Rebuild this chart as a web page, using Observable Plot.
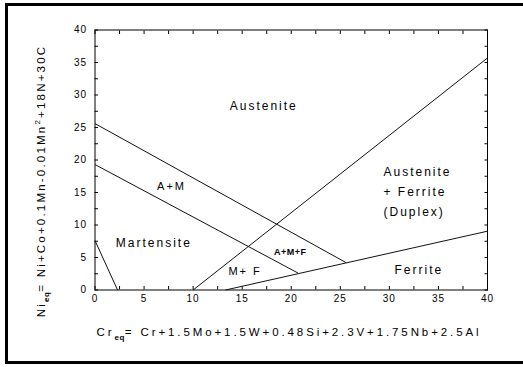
<!DOCTYPE html>
<html>
<head>
<meta charset="utf-8">
<script src="https://cdn.jsdelivr.net/npm/d3@7"></script>
<script src="https://cdn.jsdelivr.net/npm/@observablehq/plot@0.6"></script>
<style>
  html, body { margin: 0; padding: 0; background: #fff; }
  #wrap { position: relative; width: 523px; height: 367px; overflow: hidden; }
  #border { position: absolute; left: 5px; top: 3px; width: 540px; height: 361px;
            border: 3px solid #000; box-sizing: border-box; pointer-events: none; }
  #wrap svg { position: absolute; left: 0; top: 0; }
</style>
</head>
<body>
<div id="wrap"><div id="border"></div></div>
<script>
// Phase boundaries of the constitution diagram (Cr_eq, Ni_eq end points)
const boundaryNames = ["martensite start", "austenite / A+M", "A+M / martensite", "austenite / ferrite", "ferrite"];
const boundaryX1 = [0, 0, 0, 10, 13.3];
const boundaryY1 = [7.6, 25.6, 19.3, 0, 0];
const boundaryX2 = [2.3, 25.6, 20.7, 40, 40];
const boundaryY2 = [0, 4.2, 2.6, 35.7, 9.05];

// Phase field labels
const regionText = ["Austenite", "Austenite", "+ Ferrite", "(Duplex)", "Ferrite", "A+M", "Martensite", "M+ F", "A+M+F"];
const regionX = [17.2, 29.4, 29.4, 29.4, 33.0, 7.8, 6.0, 15.3, 19.9];
const regionY = [28.3, 18.1, 15.0, 11.9, 3.0, 15.9, 7.15, 2.8, 5.9];
const regionAnchor = ["middle", "start", "start", "start", "middle", "middle", "middle", "middle", "middle"];
const regionSize = [12, 12, 12, 12, 12, 11, 12, 11, 9];

// Axis ticks
const minorTicks = d3.range(0, 40.01, 2.5);
const majorTicks = [0, 5, 10, 15, 20, 25, 30, 35, 40];

const boundaries = boundaryNames.map((name, i) => ({
  name, x1: boundaryX1[i], y1: boundaryY1[i], x2: boundaryX2[i], y2: boundaryY2[i]
}));
const regions = regionText.map((text, i) => ({
  text, x: regionX[i], y: regionY[i], anchor: regionAnchor[i], size: regionSize[i]
}));

const font = "'Liberation Sans', Arial, sans-serif";
const blank = () => "";

const chart = Plot.plot({
  width: 523,
  height: 367,
  marginLeft: 94.5,
  marginRight: 36,
  marginTop: 29.5,
  marginBottom: 77.5,
  x: { domain: [0, 40] },
  y: { domain: [0, 40] },
  style: { fontFamily: font, fontSize: "10px", background: "transparent", color: "#000", letterSpacing: "1px" },
  marks: [
    Plot.frame({ stroke: "#000", strokeWidth: 1 }),
    // inward tick marks on all four sides
    Plot.axisX(minorTicks, { anchor: "bottom", tickSize: -3.5, tickFormat: blank, label: null }),
    Plot.axisX(minorTicks, { anchor: "top", tickSize: -3.5, tickFormat: blank, label: null }),
    Plot.axisY(minorTicks, { anchor: "left", tickSize: -3.5, tickFormat: blank, label: null }),
    Plot.axisY(minorTicks, { anchor: "right", tickSize: -3.5, tickFormat: blank, label: null }),
    // numeric tick labels
    Plot.axisX(majorTicks, { anchor: "bottom", tickSize: 0, tickPadding: 5, label: null, fontSize: 10 }),
    Plot.axisY(majorTicks, { anchor: "left", tickSize: 0, tickPadding: 8, label: null, fontSize: 10 }),
    Plot.link(boundaries, {
      x1: "x1", y1: "y1", x2: "x2", y2: "y2",
      stroke: "#111", strokeWidth: 1
    }),
    ...regions.map(r => Plot.text([r], {
      x: "x", y: "y", text: "text", textAnchor: r.anchor,
      fontSize: r.size, fill: "#000",
      fontWeight: r.text === "A+M+F" ? "bold" : "normal"
    }))
  ]
});

const svg = d3.select(chart);
svg.selectAll("text").style("letter-spacing", function () {
  const t = d3.select(this).text();
  return regionText.includes(t) ? (t === "A+M+F" ? "0.5px" : "2px") : "1px";
});

// Axis titles with subscripts and superscript
const xTitle = svg.append("text")
  .attr("x", 289).attr("y", 336)
  .attr("text-anchor", "middle")
  .style("font-family", font).style("font-size", "11.5px").style("letter-spacing", "2.9px");
xTitle.append("tspan").text("Cr");
xTitle.append("tspan").attr("dy", 4).style("font-size", "8px").style("font-weight", "bold").style("letter-spacing", "0.5px").text("eq");
xTitle.append("tspan").attr("dy", -4).text("= Cr+1.5Mo+1.5W+0.48Si+2.3V+1.75Nb+2.5Al");

const yTitle = svg.append("text")
  .attr("transform", "translate(45,181) rotate(-90)")
  .attr("text-anchor", "middle")
  .style("font-family", font).style("font-size", "11.5px").style("letter-spacing", "2.2px");
yTitle.append("tspan").text("Ni");
yTitle.append("tspan").attr("dy", 4).style("font-size", "8px").style("font-weight", "bold").style("letter-spacing", "0.5px").text("eq");
yTitle.append("tspan").attr("dy", -4).text("= Ni+Co+0.1Mn-0.01Mn");
yTitle.append("tspan").attr("dy", -5).style("font-size", "8px").text("2");
yTitle.append("tspan").attr("dy", 5).text("+18N+30C");

document.getElementById("wrap").appendChild(chart);
</script>
</body>
</html>
